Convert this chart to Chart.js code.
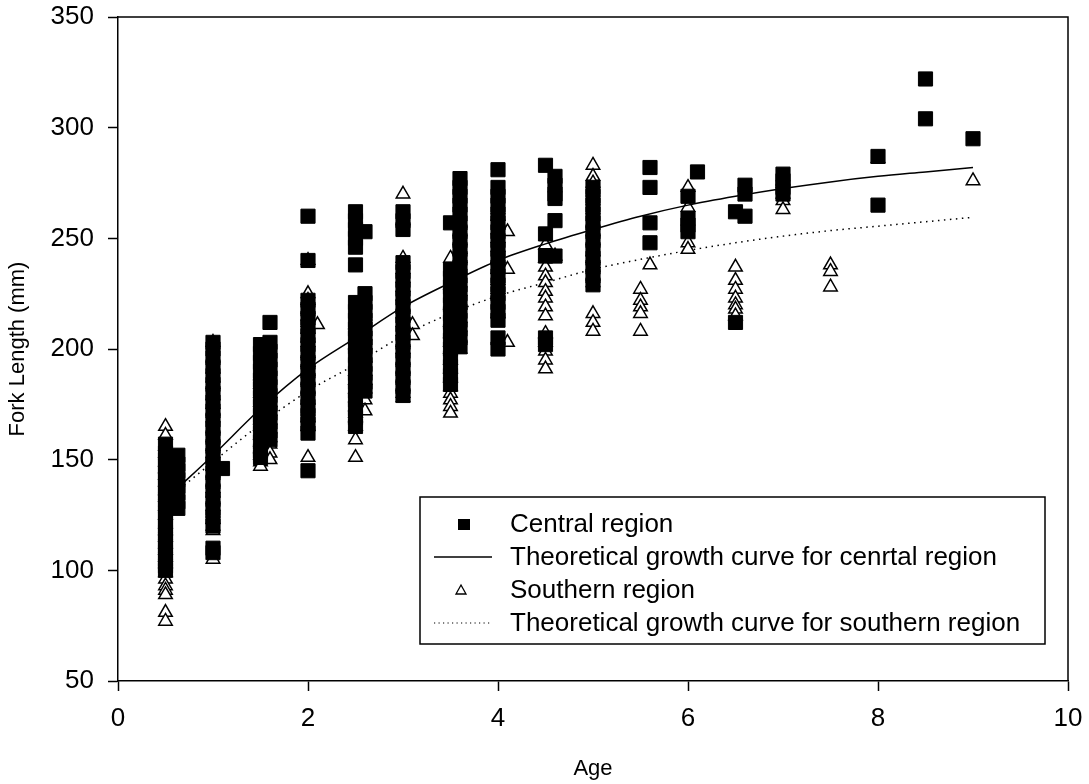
<!DOCTYPE html>
<html>
<head>
<meta charset="utf-8">
<script src="https://cdn.jsdelivr.net/npm/chart.js@4.4.1/dist/chart.umd.min.js"></script>
<style>
  html, body { margin: 0; padding: 0; background: #fff; }
  canvas { display: block; }
</style>
</head>
<body>
<canvas id="growth-chart" width="1089" height="784"></canvas>
<script>
// --- Datos: edad (años) y longitud furcal (mm) ---
const centralAges = [0.5, 0.63, 1.0, 1.1, 1.5, 1.6, 2.0, 2.5, 2.6, 3.0, 3.5, 3.6, 4.0, 4.5, 4.6, 5.0, 5.6, 6.0, 6.1, 6.5, 6.6, 7.0, 8.0, 8.5, 9.0];
const centralLengths = [
  [157, 153, 150, 147, 144, 141, 138, 135, 132, 129, 126, 123, 120, 117, 114, 111, 108, 105, 102, 100],
  [152, 148, 145, 141, 138, 135, 131, 128],
  [203, 200, 196, 192, 188, 184, 180, 176, 172, 168, 164, 160, 156, 152, 148, 144, 140, 136, 132, 128, 124, 120, 110, 108],
  [146],
  [202, 198, 194, 190, 186, 182, 178, 174, 170, 166, 162, 158, 154, 151],
  [212, 203, 199, 195, 191, 187, 183, 179, 175, 171, 167, 163, 159],
  [260, 240, 222, 218, 214, 210, 206, 202, 198, 194, 190, 186, 182, 178, 174, 170, 166, 162, 145],
  [262, 258, 254, 250, 246, 238, 221, 217, 213, 209, 205, 201, 197, 193, 189, 185, 181, 177, 173, 169, 165],
  [253, 225, 221, 217, 213, 209, 205, 201, 197, 193, 189, 185, 181],
  [262, 258, 254, 239, 235, 231, 227, 223, 219, 215, 211, 207, 203, 199, 195, 191, 187, 183, 179],
  [257, 236, 232, 228, 224, 220, 216, 212, 208, 204, 200, 196, 192, 188, 184],
  [277, 273, 269, 265, 261, 257, 253, 249, 245, 241, 237, 233, 229, 225, 221, 217, 213, 209, 205, 201],
  [281, 273, 269, 265, 261, 257, 253, 249, 245, 241, 237, 233, 229, 225, 221, 217, 213, 205, 200],
  [283, 252, 242, 205, 202],
  [278, 274, 270, 268, 258, 242],
  [273, 269, 265, 261, 257, 253, 249, 245, 241, 237, 233, 229],
  [282, 273, 257, 248],
  [269, 259, 256, 253],
  [280],
  [262, 212],
  [274, 270, 260],
  [279, 276, 273, 270],
  [287, 265],
  [322, 304],
  [295]
];

const southernAges = [0.5, 1.0, 1.5, 1.6, 2.0, 2.1, 2.5, 2.6, 3.0, 3.1, 3.5, 3.6, 4.0, 4.1, 4.5, 4.6, 5.0, 5.5, 5.6, 6.0, 6.5, 7.0, 7.5, 8.0, 9.0];
const southernLengths = [
  [165, 161, 156, 153, 149, 146, 143, 140, 136, 133, 129, 125, 121, 118, 115, 112, 109, 106, 103, 99, 96, 93, 91, 89, 81, 77],
  [203, 196, 191, 187, 184, 179, 175, 172, 169, 164, 160, 156, 153, 150, 147, 144, 140, 137, 135, 132, 129, 126, 123, 120, 118, 105],
  [188, 184, 180, 176, 172, 168, 165, 161, 158, 155, 152, 149, 147],
  [180, 176, 172, 168, 164, 160, 157, 153, 150],
  [240, 225, 222, 218, 215, 212, 209, 205, 203, 198, 194, 190, 186, 182, 177, 172, 169, 165, 151],
  [211],
  [211, 205, 202, 190, 186, 182, 178, 174, 171, 169, 165, 159, 151],
  [215, 206, 202, 196, 190, 186, 182, 177, 172],
  [270, 258, 241, 236, 232, 228, 224, 219, 216, 212, 208, 203, 200, 195, 191, 187, 183, 180, 178],
  [211, 206],
  [241, 229, 220, 212, 207, 203, 200, 195, 191, 187, 183, 180, 177, 174, 171],
  [257, 253, 249, 245, 241, 236, 230, 226, 220, 214, 210, 205, 200],
  [263, 260, 254, 250, 246, 241, 236, 231, 227, 216],
  [253, 236, 203],
  [247, 241, 237, 233, 230, 226, 223, 219, 215, 207, 203, 199, 195, 191],
  [242],
  [283, 278, 275, 271, 267, 263, 257, 253, 249, 244, 241, 237, 233, 230, 216, 212, 208],
  [227, 222, 219, 216, 208],
  [238],
  [273, 264, 248, 245],
  [237, 231, 227, 223, 220, 218, 215],
  [276, 270, 267, 263],
  [238, 235, 228],
  [286],
  [276]
];

// Curvas teóricas de crecimiento
const curveAges = [0.6, 1, 1.5, 2, 2.5, 3, 3.5, 4, 4.5, 5, 5.5, 6, 6.5, 7, 7.5, 8, 8.5, 9];
const centralCurve = [136, 152, 173, 191, 205, 219, 230, 240, 247.5, 254, 260, 265, 269, 272.5, 275.5, 278, 280, 282];
const southernCurve = [135, 149, 166, 181, 193, 206, 216, 224, 230, 236, 240.5, 244.5, 248, 251, 253.5, 255.5, 257.5, 259.5];

const xTicks = [0, 2, 4, 6, 8, 10];
const yTicks = [50, 100, 150, 200, 250, 300, 350];

const seriesLabels = [
  'Central region',
  'Theoretical growth curve for cenrtal region',
  'Southern region',
  'Theoretical growth curve for southern region'
];

(function () {
  'use strict';

  const FONT = 'Arial, "Liberation Sans", sans-serif';

  function toPoints(ages, groups) {
    var pts = [];
    ages.forEach(function (age, i) {
      groups[i].forEach(function (len) { pts.push({ x: age, y: len }); });
    });
    return pts;
  }

  function curvePoints(ages, values) {
    return ages.map(function (age, i) { return { x: age, y: values[i] }; });
  }

  // --- Marco superior y derecho del área de trazado ---
  const framePlugin = {
    id: 'frame',
    afterDatasetsDraw: function (chart) {
      var a = chart.chartArea, c = chart.ctx;
      c.save();
      c.strokeStyle = '#000';
      c.lineWidth = 1.5;
      c.beginPath();
      c.moveTo(a.left, a.top);
      c.lineTo(a.right, a.top);
      c.lineTo(a.right, a.bottom);
      c.stroke();
      c.restore();
    }
  };

  // --- Leyenda con recuadro dentro del gráfico ---
  const boxLegend = {
    id: 'boxLegend',
    afterDraw: function (chart) {
      var c = chart.ctx;
      var box = { x: 420, y: 497, w: 625, h: 147 };
      var rows = [524, 557, 590, 623];
      c.save();
      c.fillStyle = '#fff';
      c.fillRect(box.x, box.y, box.w, box.h);
      c.strokeStyle = '#000';
      c.lineWidth = 1.5;
      c.strokeRect(box.x, box.y, box.w, box.h);

      // marcador cuadrado
      c.fillStyle = '#000';
      c.fillRect(458, rows[0] - 5, 12, 11);
      // línea continua
      c.lineWidth = 1.5;
      c.beginPath();
      c.moveTo(434, rows[1]);
      c.lineTo(492, rows[1]);
      c.stroke();
      // triángulo
      c.lineWidth = 1.3;
      c.fillStyle = '#fff';
      c.beginPath();
      c.moveTo(461, rows[2] - 5);
      c.lineTo(466, rows[2] + 4);
      c.lineTo(456, rows[2] + 4);
      c.closePath();
      c.fill();
      c.stroke();
      // línea punteada
      c.lineWidth = 1.2;
      c.setLineDash([1.2, 3.3]);
      c.beginPath();
      c.moveTo(434, rows[3]);
      c.lineTo(492, rows[3]);
      c.stroke();
      c.setLineDash([]);

      c.fillStyle = '#000';
      c.font = '26px ' + FONT;
      c.textBaseline = 'middle';
      c.textAlign = 'left';
      seriesLabels.forEach(function (label, i) {
        c.fillText(label, 510, rows[i] + 1);
      });
      c.restore();
    }
  };

  var tickFont = { family: FONT, size: 26 };
  var titleFont = { family: FONT, size: 22 };

  new Chart(document.getElementById('growth-chart'), {
    type: 'scatter',
    data: {
      datasets: [
        {
          label: seriesLabels[0],
          data: toPoints(centralAges, centralLengths),
          pointStyle: 'rect',
          pointRadius: 10,
          backgroundColor: '#000',
          borderColor: '#000',
          borderWidth: 1
        },
        {
          label: seriesLabels[1],
          data: curvePoints(curveAges, centralCurve),
          showLine: true,
          pointRadius: 0,
          borderColor: '#000',
          borderWidth: 1.5,
          cubicInterpolationMode: 'monotone'
        },
        {
          label: seriesLabels[2],
          data: toPoints(southernAges, southernLengths),
          pointStyle: 'triangle',
          pointRadius: 7.8,
          backgroundColor: '#fff',
          borderColor: '#000',
          borderWidth: 1.5
        },
        {
          label: seriesLabels[3],
          data: curvePoints(curveAges, southernCurve),
          showLine: true,
          pointRadius: 0,
          borderColor: '#000',
          borderWidth: 1.5,
          borderDash: [1.5, 4.5],
          cubicInterpolationMode: 'monotone'
        }
      ]
    },
    options: {
      responsive: false,
      animation: false,
      layout: { padding: { top: 17, right: 21, left: 0, bottom: 0 } },
      plugins: {
        legend: { display: false },
        tooltip: { enabled: false }
      },
      scales: {
        x: {
          type: 'linear',
          min: 0,
          max: 10,
          afterBuildTicks: function (s) { s.ticks = xTicks.map(function (v) { return { value: v }; }); },
          afterFit: function (s) { s.height = 103; s.paddingLeft = 0; s.paddingRight = 0; },
          ticks: { color: '#000', font: tickFont, padding: 12, maxRotation: 0 },
          grid: { drawOnChartArea: false, tickLength: 10, tickColor: '#000', tickWidth: 1.5 },
          border: { color: '#000', width: 1.5 },
          title: { display: true, text: 'Age', color: '#000', font: titleFont, padding: 2 }
        },
        y: {
          type: 'linear',
          min: 50,
          max: 350,
          afterBuildTicks: function (s) { s.ticks = yTicks.map(function (v) { return { value: v }; }); },
          afterFit: function (s) { s.width = 118; s.paddingTop = 0; s.paddingBottom = 0; },
          ticks: { color: '#000', font: tickFont, padding: 14 },
          grid: { drawOnChartArea: false, tickLength: 10, tickColor: '#000', tickWidth: 1.5 },
          border: { color: '#000', width: 1.5 },
          title: { display: true, text: 'Fork Length (mm)', color: '#000', font: titleFont, padding: 5 }
        }
      }
    },
    plugins: [framePlugin, boxLegend]
  });
})();
</script>
</body>
</html>
